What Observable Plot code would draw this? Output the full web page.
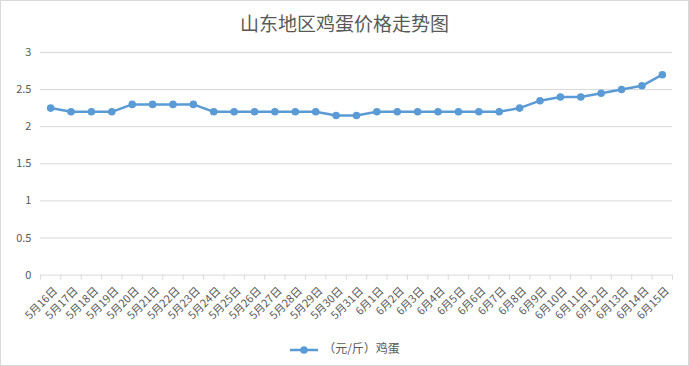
<!DOCTYPE html>
<html>
<head>
<meta charset="utf-8">
<script src="https://cdn.jsdelivr.net/npm/d3@7"></script>
<script src="https://cdn.jsdelivr.net/npm/@observablehq/plot@0.6"></script>
<style>
  html, body { margin: 0; padding: 0; background: #fff; }
  #wrap { position: relative; width: 689px; height: 366px; box-sizing: border-box; border: 1px solid #d9d9d9; overflow: hidden; font-family: "Noto Sans CJK SC", "Noto Sans", sans-serif; }
  #title { position: absolute; left: 0; right: 0; top: 9px; text-align: center; font-size: 19px; color: #595959; line-height: 26px; }
  #chart { position: absolute; left: -1px; top: -1px; }
  #legend { position: absolute; left: 0; right: 0; top: 337px; text-align: center; font-size: 12px; color: #595959; line-height: 20px; }
  #legend svg { vertical-align: middle; margin-right: 4px; }
</style>
</head>
<body>
<div id="wrap">
  <div id="chart"></div>
  <div id="title">山东地区鸡蛋价格走势图</div>
  <div id="legend"></div>
</div>
<script>
const dates = ["5月16日","5月17日","5月18日","5月19日","5月20日","5月21日","5月22日","5月23日","5月24日","5月25日","5月26日","5月27日","5月28日","5月29日","5月30日","5月31日","6月1日","6月2日","6月3日","6月4日","6月5日","6月6日","6月7日","6月8日","6月9日","6月10日","6月11日","6月12日","6月13日","6月14日","6月15日"];
const prices = [2.25,2.2,2.2,2.2,2.3,2.3,2.3,2.3,2.2,2.2,2.2,2.2,2.2,2.2,2.15,2.15,2.2,2.2,2.2,2.2,2.2,2.2,2.2,2.25,2.35,2.4,2.4,2.45,2.5,2.55,2.7];
const yTicks = [0,0.5,1,1.5,2,2.5,3];
const seriesName = "（元/斤）鸡蛋";
const color = "#5B9BD5";

const data = prices.map((v, i) => ({i, date: dates[i], v}));
const n = dates.length;

const chart = Plot.plot({
  width: 689,
  height: 366,
  marginLeft: 40,
  marginRight: 16,
  marginTop: 52,
  marginBottom: 91,
  style: {fontFamily: '"Noto Sans CJK SC", sans-serif', fontSize: "11px", color: "#595959", background: "transparent"},
  x: {type: "linear", domain: [-0.5, n - 0.5], axis: null},
  y: {domain: [0, 3], axis: null},
  marks: [
    Plot.gridY(yTicks, {stroke: "#d9d9d9", strokeOpacity: 1, strokeWidth: 1}),
    Plot.axisY(yTicks, {tickSize: 0, tickPadding: 9, tickFormat: d => String(d), fill: "#595959", fontSize: 11, label: null}),
    Plot.axisX(d3.range(-0.5, n, 1), {tickSize: 5, tickFormat: () => "", stroke: "#d9d9d9", strokeOpacity: 1, label: null}),
    Plot.axisX(d3.range(0, n), {tickSize: 0, tickPadding: 14, tickRotate: -45, tickFormat: i => dates[i], fill: "#595959", fontSize: 11, dx: 5, label: null}),
    Plot.line(data, {x: "i", y: "v", stroke: color, strokeWidth: 2.5}),
    Plot.dot(data, {x: "i", y: "v", r: 3.8, fill: color, stroke: "none"})
  ]
});
document.getElementById("chart").appendChild(chart);

const leg = document.getElementById("legend");
leg.innerHTML = `<svg width="30" height="10"><line x1="1" y1="5" x2="29" y2="5" stroke="${color}" stroke-width="2.5"/><circle cx="15" cy="5" r="3.8" fill="${color}"/></svg><span>${seriesName}</span>`;
</script>
</body>
</html>
